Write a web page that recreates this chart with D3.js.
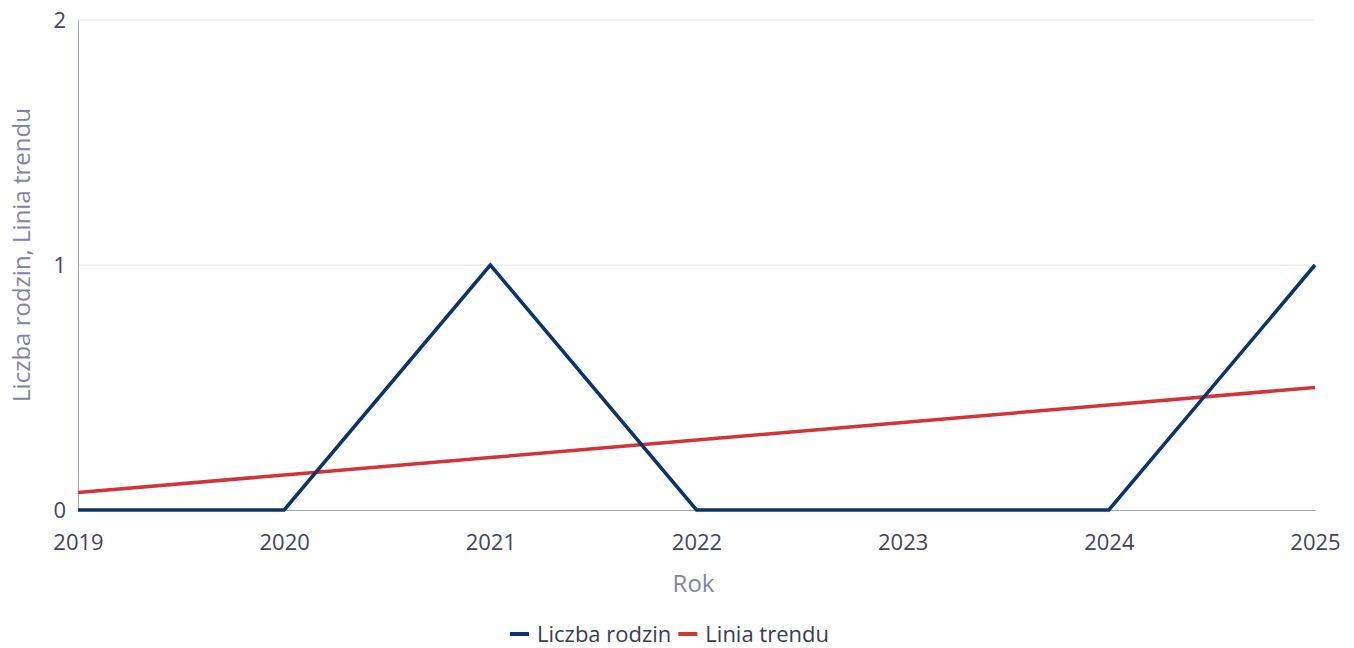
<!DOCTYPE html>
<html>
<head>
<meta charset="utf-8">
<script src="https://cdn.jsdelivr.net/npm/d3@7"></script>
<style>
  body { margin: 0; background: #fff; }
  svg { display: block; font-family: "Open Sans", "Noto Sans", sans-serif; }
</style>
</head>
<body>
<svg width="1354" height="648"></svg>
<script>
const years = [2019, 2020, 2021, 2022, 2023, 2024, 2025];
const families = [0, 0, 1, 0, 0, 0, 1];
const trend = [0.071, 0.143, 0.214, 0.286, 0.357, 0.429, 0.5];
const yTicks = [0, 1, 2];

const svg = d3.select('svg');
const margin = { top: 20, right: 39, bottom: 138, left: 78 };
const width = 1354 - margin.left - margin.right;
const height = 648 - margin.top - margin.bottom;

const g = svg.append('g').attr('transform', `translate(${margin.left},${margin.top})`);

const x = d3.scaleLinear().domain([2019, 2025]).range([0, width]);
const y = d3.scaleLinear().domain([0, 2]).range([height, 0]);

// grid
g.selectAll('.grid')
  .data(yTicks.filter(d => d > 0))
  .join('line')
  .attr('x1', 0).attr('x2', width)
  .attr('y1', d => y(d)).attr('y2', d => y(d))
  .attr('stroke', '#e6e6ec');

// y axis
const yAxis = g.append('g')
  .call(d3.axisLeft(y).tickValues(yTicks).tickSize(0).tickPadding(12).tickFormat(d3.format('d')));
yAxis.select('.domain').attr('stroke', '#a3a3bd');
yAxis.selectAll('text').attr('font-size', 22).attr('fill', '#44445a')
  .attr('font-family', '"Open Sans", sans-serif');

// x axis
const xAxis = g.append('g').attr('transform', `translate(0,${height})`)
  .call(d3.axisBottom(x).tickValues(years).tickSize(0).tickPadding(24).tickFormat(d3.format('d')));
xAxis.select('.domain').attr('stroke', '#a3a3bd');
xAxis.selectAll('text').attr('font-size', 22).attr('fill', '#44445a')
  .attr('font-family', '"Open Sans", sans-serif');

// series
const line = d3.line().x((d, i) => x(years[i])).y(d => y(d));

g.append('path').datum(trend)
  .attr('d', line)
  .attr('fill', 'none')
  .attr('stroke', '#d13538')
  .attr('stroke-width', 3.5);

g.append('path').datum(families)
  .attr('d', line)
  .attr('fill', 'none')
  .attr('stroke', '#0b3566')
  .attr('stroke-width', 3.5);

// axis titles
svg.append('text')
  .attr('x', margin.left + width / 2 - 3).attr('y', 592)
  .attr('text-anchor', 'middle')
  .attr('font-size', 24).attr('fill', '#8283a6')
  .text('Rok');

svg.append('text')
  .attr('transform', `translate(30,${margin.top + height / 2 - 10}) rotate(-90)`)
  .attr('text-anchor', 'middle')
  .attr('font-size', 24).attr('fill', '#8283a6')
  .text('Liczba rodzin, Linia trendu');

// legend
const legendItems = [
  { name: 'Liczba rodzin', color: '#0b3566' },
  { name: 'Linia trendu', color: '#d13538' }
];
const legend = svg.append('g').attr('transform', 'translate(510,634)');
let lx = 0;
legendItems.forEach(item => {
  const it = legend.append('g').attr('transform', `translate(${lx},0)`);
  it.append('line').attr('x1', 0).attr('x2', 19).attr('y1', 0).attr('y2', 0)
    .attr('stroke', item.color).attr('stroke-width', 4);
  const t = it.append('text').attr('x', 27).attr('y', 8)
    .attr('font-size', 22).attr('fill', '#3c3c50').text(item.name);
  lx += 27 + t.node().getComputedTextLength() + 7;
});
</script>
</body>
</html>
